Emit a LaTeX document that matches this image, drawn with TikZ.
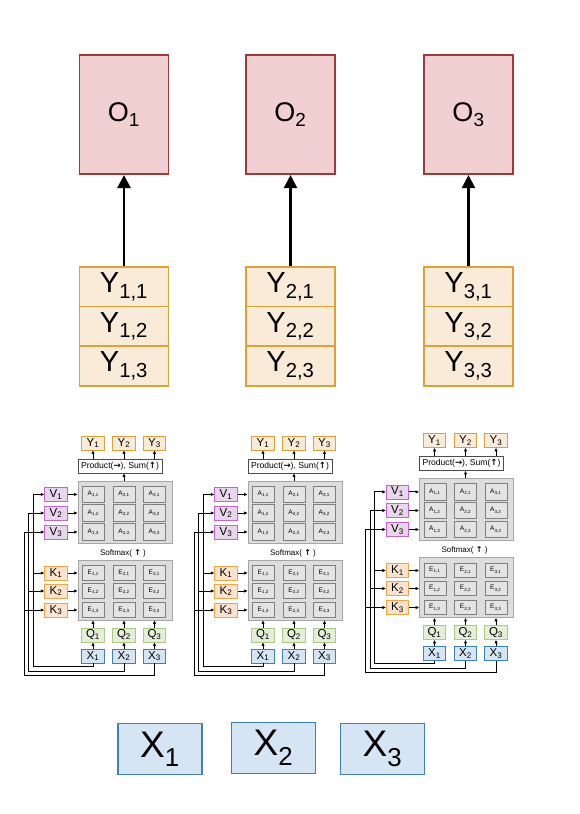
\documentclass[tikz,border=0pt]{standalone}
\usepackage{fontspec}
\setmainfont{Liberation Sans}
\newfontfamily\arrowfont{DejaVu Sans}
\usetikzlibrary{arrows.meta,positioning,calc}

\definecolor{ofill}{HTML}{F1D0D1}
\definecolor{odraw}{HTML}{A2383E}
\definecolor{yfill}{HTML}{FAEBD8}
\definecolor{ydraw}{HTML}{DFA036}
\definecolor{xfill}{HTML}{D6E5F3}
\definecolor{xdraw}{HTML}{3E80BC}
\definecolor{vfill}{HTML}{E7D6EC}
\definecolor{vdraw}{HTML}{C464D4}
\definecolor{kfill}{HTML}{FCE3CF}
\definecolor{kdraw}{HTML}{F3A542}
\definecolor{qfill}{HTML}{E4EFD8}
\definecolor{qdraw}{HTML}{A9CB84}
\definecolor{blockfill}{HTML}{DDDDDD}
\definecolor{blockdraw}{HTML}{A6A6A6}
\definecolor{cellfill}{HTML}{E4E4E4}
\definecolor{celldraw}{HTML}{7F7F7F}

\tikzset{
  bigbox/.style={draw, line width=1.7pt, minimum width=89pt, inner sep=0pt},
  obox/.style={bigbox, draw=odraw, fill=ofill, minimum height=119pt, font=\fontsize{27}{27}\selectfont},
  ybox/.style={bigbox, draw=ydraw, fill=yfill, minimum height=39.7pt, font=\fontsize{29}{29}\selectfont},
  xbox/.style={draw=xdraw, fill=xfill, line width=1.7pt, minimum width=84pt, minimum height=51pt, inner sep=0pt, font=\fontsize{37}{37}\selectfont},
  sbox/.style={draw, line width=0.6pt, minimum width=22.5pt, minimum height=14pt, inner sep=0pt, font=\fontsize{11.5}{11.5}\selectfont},
  cell/.style={draw=celldraw, fill=cellfill, line width=0.6pt, minimum width=22pt, inner sep=0pt, font=\fontsize{6.5}{6.5}\selectfont},
  block/.style={draw=blockdraw, fill=blockfill, line width=0.6pt, minimum width=94pt, inner sep=0pt},
  bigarrow/.style={line width=2.3pt, -{Triangle[width=13pt,length=13pt]}},
  small/.style={line width=1pt, -{Latex[width=3.4pt,length=3.6pt]}},
}

\begin{document}
\begin{tikzpicture}[x=1pt,y=-1pt]
  \useasboundingbox (0,0) rectangle (580,814);

  % outputs O_i with stacked Y_{i,j}
  \foreach \i/\cx in {1/124, 2/290.5, 3/468.5} {
    \node[obox] (o\i) at (\cx,114.7) {O\textsubscript{\i}};
    \node[ybox] (y\i1) at (\cx,286.7) {Y\textsubscript{\i,1}};
    \node[ybox] (y\i2) at (\cx,326.3) {Y\textsubscript{\i,2}};
    \node[ybox] (y\i3) at (\cx,366) {Y\textsubscript{\i,3}};
    \draw[bigarrow] (y\i1.north) -- (o\i.south);
  }

  % inputs
  \node[xbox] (x1) at (160,749) {X\textsubscript{1}};
  \node[xbox] (x2) at (273.5,748) {X\textsubscript{2}};
  \node[xbox] (x3) at (382.5,749) {X\textsubscript{3}};

  % one small self-attention block per output
  \foreach \d/\dx/\dy in {1/0/0, 2/170/0, 3/341.5/-2.5} {
    \begin{scope}[shift={(\dx,\dy)}]
      \node[block, minimum height=62pt] (d\d-ablk) at (125,512) {};
      \node[block, minimum height=60pt] (d\d-eblk) at (125,590) {};
      \node[draw=black!70, fill=white, line width=0.6pt, minimum width=84pt, minimum height=14pt,
            inner sep=0pt, font=\fontsize{8.6}{8.6}\selectfont] (d\d-prod) at (120,466)
            {Product({\arrowfont\bfseries →}), Sum({\arrowfont\bfseries ↑})};
      \node[font=\fontsize{8}{8}\selectfont] (d\d-soft) at (123,553) {Softmax( {\arrowfont\bfseries ↑} )};
      \foreach \j/\cx in {1/93, 2/124, 3/154.5} {
        \node[sbox, draw=ydraw, fill=yfill] (d\d-y\j) at (\cx,443) {Y\textsubscript{\j}};
        \node[sbox, draw=qdraw, fill=qfill] (d\d-q\j) at (\cx,635) {Q\textsubscript{\j}};
        \node[sbox, draw=xdraw, fill=xfill] (d\d-x\j) at (\cx,656) {X\textsubscript{\j}};
        \draw[small] (d\d-prod.north -| d\d-y\j) -- (d\d-y\j.south);
        \draw[small] (d\d-q\j.north) -- (d\d-q\j.north |- d\d-eblk.south);
        \draw[small] (d\d-x\j.north) -- (d\d-q\j.south);
      }
      \foreach \k/\ay/\ey in {1/494.4/573, 2/513/591, 3/532/610} {
        \node[sbox, draw=vdraw, fill=vfill] (d\d-v\k) at (56,\ay) {V\textsubscript{\k}};
        \node[sbox, draw=kdraw, fill=kfill] (d\d-k\k) at (56,\ey) {K\textsubscript{\k}};
        \foreach \j/\cx in {1/93.3, 2/124, 3/154.3} {
          \node[cell, minimum height=16.5pt] (d\d-a\j\k) at (\cx,\ay) {A\textsubscript{\j,\k}};
          \node[cell, minimum height=14.5pt] (d\d-e\j\k) at (\cx,\ey) {E\textsubscript{\j,\k}};
        }
        \draw[small] (d\d-v\k.east) -- (d\d-v\k.east -| d\d-ablk.west);
        \draw[small] (d\d-k\k.east) -- (d\d-k\k.east -| d\d-eblk.west);
      }
      \draw[small] (d\d-ablk.north -| d\d-y2) -- (d\d-prod.south -| d\d-y2);
      % wires from X_j to V_j and K_j
      \foreach \j/\wx/\wy in {1/33/666, 2/28.5/671, 3/24/675} {
        \coordinate (d\d-w\j) at (\wx,\wy);
        \draw[small] (d\d-x\j.south) |- (d\d-w\j) |- (d\d-v\j.west);
        \draw[small] (d\d-w\j |- d\d-k\j) -- (d\d-k\j.west);
      }
    \end{scope}
  }
\end{tikzpicture}
\end{document}
